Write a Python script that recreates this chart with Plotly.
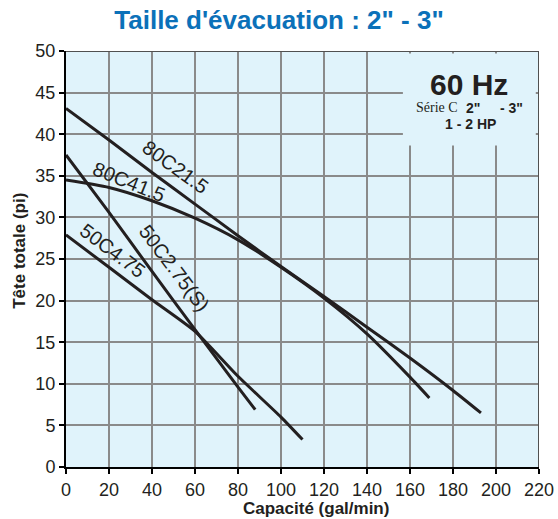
import plotly.graph_objects as go

# ---- data ----
x_ticks = [0, 20, 40, 60, 80, 100, 120, 140, 160, 180, 200, 220]
y_ticks = [0, 5, 10, 15, 20, 25, 30, 35, 40, 45, 50]

x_80c21 = [0, 20, 40, 60, 80, 100, 120, 140, 160, 180, 193]
y_80c21 = [43.1, 39.3, 35.4, 31.6, 27.8, 24.1, 20.5, 16.8, 13.1, 9.2, 6.5]

x_80c41 = [0, 20, 40, 60, 80, 100, 120, 140, 160, 169]
y_80c41 = [34.5, 33.6, 32.0, 29.9, 27.3, 24.0, 20.3, 16.0, 10.8, 8.3]

x_50c2 = [0, 20, 40, 60, 80, 88]
y_50c2 = [37.5, 30.6, 23.5, 16.5, 9.6, 6.9]

x_50c4 = [0, 20, 40, 60, 80, 100, 110]
y_50c4 = [27.9, 24.0, 20.1, 16.3, 10.9, 6.0, 3.3]

curve_names = ["80C21.5", "80C41.5", "50C2.75(S)", "50C4.75"]

INK = "#231f20"
BG = "#e0f3fb"
GRID = "#8a8a8a"
FONT = "Liberation Sans"

fig = go.Figure()
for xs, ys, name in [(x_80c21, y_80c21, curve_names[0]),
                     (x_80c41, y_80c41, curve_names[1]),
                     (x_50c2, y_50c2, curve_names[2]),
                     (x_50c4, y_50c4, curve_names[3])]:
    fig.add_trace(go.Scatter(x=xs, y=ys, mode="lines", name=name,
                             line=dict(color=INK, width=3, shape="spline", smoothing=0.6)))

# curve labels
labels = [
    (curve_names[0], 51.0, 36.1, 36),
    (curve_names[1], 29.5, 34.2, 22),
    (curve_names[2], 50.3, 23.9, 53),
    (curve_names[3], 22.0, 26.0, 37),
]
for txt, lx, ly, ang in labels:
    fig.add_annotation(x=lx, y=ly, xref="x", yref="y", text=txt, showarrow=False,
                       textangle=ang, xanchor="center", yanchor="middle",
                       font=dict(family=FONT, size=20, color=INK))

# info box texts
fig.add_annotation(x=187.4, y=46.0, xref="x", yref="y", text="<b>60 Hz</b>", showarrow=False,
                   xanchor="center", yanchor="middle", font=dict(family=FONT, size=30, color=INK))
fig.add_annotation(x=183.3, y=43.2, xref="x", yref="y", text="Série C", showarrow=False,
                   xanchor="right", yanchor="middle",
                   font=dict(family="Liberation Serif", size=14, color=INK))
fig.add_annotation(x=185.0, y=43.2, xref="x", yref="y", text='<b>2"</b>', showarrow=False,
                   xanchor="left", yanchor="middle", font=dict(family=FONT, size=14, color=INK))
fig.add_annotation(x=200.9, y=43.2, xref="x", yref="y", text='<b>- 3"</b>', showarrow=False,
                   xanchor="left", yanchor="middle", font=dict(family=FONT, size=14, color=INK))
fig.add_annotation(x=188.0, y=41.2, xref="x", yref="y", text="<b>1 - 2 HP</b>", showarrow=False,
                   xanchor="center", yanchor="middle", font=dict(family=FONT, size=14, color=INK))

# axis titles
fig.add_annotation(x=0.5285, y=-0.0986, xref="paper", yref="paper", text="<b>Capacité (gal/min)</b>",
                   showarrow=False, xanchor="center", yanchor="middle",
                   font=dict(family=FONT, size=17, color=INK))
fig.add_annotation(x=-0.097, y=0.52, xref="paper", yref="paper", text="<b>Tête totale (pi)</b>",
                   showarrow=False, textangle=-90, xanchor="center", yanchor="middle",
                   font=dict(family=FONT, size=17, color=INK))

# box hiding the grid behind the 60 Hz text
fig.add_shape(type="rect", xref="x", yref="y", x0=156.7, x1=218.5, y0=38.65, y1=49.7,
              fillcolor=BG, line=dict(width=0), layer="between")
# top and right border
fig.add_shape(type="line", xref="x", yref="y", x0=0, x1=220, y0=50, y1=50,
              line=dict(color="#505050", width=2), layer="above")
fig.add_shape(type="line", xref="x", yref="y", x0=220, x1=220, y0=0, y1=50,
              line=dict(color="#505050", width=2), layer="above")

fig.update_layout(
    width=558, height=519,
    margin=dict(l=66, r=19, t=51, b=52, autoexpand=False),
    paper_bgcolor="white", plot_bgcolor=BG,
    showlegend=False,
    font=dict(family=FONT, color=INK),
    title=dict(text="<b>Taille d'évacuation : 2\" - 3\"</b>", x=0.5, xref="container",
               xanchor="center", y=1 - 20 / 519, yref="container", yanchor="middle",
               font=dict(family=FONT, size=26, color="#0b71b9")),
)
fig.update_xaxes(range=[0, 220], tickmode="array", tickvals=x_ticks,
                 ticktext=[str(v) for v in x_ticks], automargin=False,
                 ticks="outside", ticklen=5, tickwidth=1.5, tickcolor="black",
                 showline=True, linecolor="black", linewidth=2,
                 showgrid=True, gridcolor=GRID, gridwidth=1.5, zeroline=False,
                 tickfont=dict(family=FONT, size=18, color=INK))
fig.update_yaxes(range=[0, 50], tickmode="array", tickvals=y_ticks,
                 ticktext=[str(v) for v in y_ticks], automargin=False,
                 ticks="outside", ticklen=5, tickwidth=1.5, tickcolor="black",
                 showline=True, linecolor="black", linewidth=2,
                 showgrid=True, gridcolor=GRID, gridwidth=1.5, zeroline=False,
                 tickfont=dict(family=FONT, size=18, color=INK))

fig.write_html("out.html", config={"displayModeBar": False},
               post_script="document.body.style.margin='0';document.body.style.padding='0';")
